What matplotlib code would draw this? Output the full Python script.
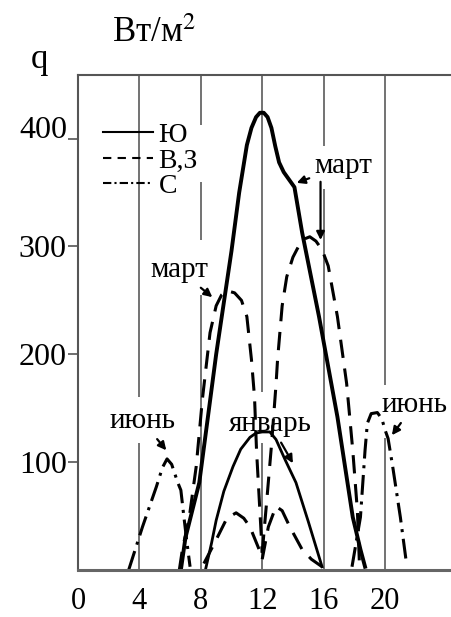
import matplotlib
matplotlib.use('Agg')
import matplotlib.pyplot as plt
import matplotlib.transforms as mtransforms
from matplotlib.lines import Line2D

plt.rcParams['font.family'] = ['Liberation Serif', 'DejaVu Serif']
plt.rcParams['mathtext.fontset'] = 'stix'

# hours / q (W/m2)
# south (Ю), solid
s_mar_h = [6.7, 7.0, 7.9, 9.0, 10.0, 10.5, 11.0, 11.3, 11.6, 11.85, 12.1, 12.35, 12.6, 12.85, 13.1, 13.4, 13.75, 14.1, 14.6, 15.7, 16.9, 17.9, 18.4, 18.7]
s_mar_q = [0, 30, 81, 200, 296, 350, 394, 410, 420, 424, 424, 420, 410, 393, 378, 369, 362, 355, 313, 235, 142, 49, 19, 3]
s_jan_h = [8.3, 8.7, 9.0, 9.5, 10.1, 10.6, 11.2, 11.6, 12.0, 12.5, 12.9, 13.5, 14.2, 15.0, 15.9]
s_jan_q = [0, 25, 46, 73, 96, 112, 123, 127, 128, 128, 121, 102, 81, 45, 3]

# east / west (В,З), dashed
e_mar_h = [6.6, 6.8, 7.25, 7.7, 8.1, 8.6, 9.0, 9.35, 9.7, 10.2, 10.65, 11.0, 11.3, 11.5, 11.63, 12.0]
e_mar_q = [0, 19, 49, 96, 158, 220, 245, 255, 259, 257, 250, 235, 195, 160, 111, 16]
w_mar_h = [12.0, 12.3, 12.6, 12.9, 13.0, 13.3, 13.6, 14.0, 14.4, 14.75, 15.1, 15.5, 15.9, 16.3, 16.9, 17.5, 17.9, 18.2, 18.35]
w_mar_q = [16, 65, 115, 172, 195, 245, 272, 290, 301, 307, 309, 305, 297, 282, 235, 173, 111, 55, 0]
e_jan_h = [8.2, 9.0, 9.7, 10.3, 10.8, 11.2, 11.8, 12.0]
e_jan_q = [6, 28, 48, 53, 48, 40, 19, 10]
w_jan_h = [12.0, 12.4, 12.9, 13.3, 13.8, 14.6, 15.2, 15.9]
w_jan_q = [10, 40, 59, 55, 40, 19, 10, 3]

# north (С), dash-dot, June
n_am_h = [3.3, 4.2, 5.1, 5.5, 5.8, 6.1, 6.5, 6.7, 6.9, 7.1, 7.3]
n_am_q = [0, 40, 77, 95, 103, 98, 81, 74, 49, 25, 3]
n_pm_h = [17.85, 18.4, 18.7, 18.85, 19.1, 19.5, 19.8, 20.0, 20.2, 20.5, 21.0, 21.4]
n_pm_q = [3, 49, 111, 136, 145, 146, 140, 130, 122, 96, 49, 6]

x_ticks = [0, 4, 8, 12, 16, 20]
y_ticks = [100, 200, 300, 400]
# grid lines at the hours, drawn in pieces like the scan
grid_h = [4, 4, 8, 8, 8, 12, 12, 16, 16, 20, 20]
grid_top = [459, 118, 459, 360, 255, 459, 118, 459, 353, 459, 122]
grid_bot = [160, 0, 413, 306, 0, 165, 0, 393, 0, 172, 0]

fig = plt.figure(figsize=(4.51, 6.17), dpi=100)
ax = fig.add_axes([0.173, 0.0762, 0.827, 0.8022])
ax.set_xlim(0, 24.3)
ax.set_ylim(0, 459)

ax.vlines(grid_h, grid_bot, grid_top, colors='#5a5a5a', lw=1.2)

dash = (0, (6, 3.5))
dashdot = (0, (6.5, 2.2, 1, 2.2))
ax.plot(s_mar_h, s_mar_q, color='k', lw=2.8, solid_joinstyle='round')
ax.plot(s_jan_h, s_jan_q, color='k', lw=2.0)
ax.plot(e_mar_h, e_mar_q, color='k', lw=2.2, linestyle=dash)
ax.plot(w_mar_h, w_mar_q, color='k', lw=2.2, linestyle=dash)
ax.plot(e_jan_h, e_jan_q, color='k', lw=2.2, linestyle=dash)
ax.plot(w_jan_h, w_jan_q, color='k', lw=2.2, linestyle=dash)
ax.plot(n_am_h, n_am_q, color='k', lw=2.2, linestyle=dashdot)
ax.plot(n_pm_h, n_pm_q, color='k', lw=2.2, linestyle=dashdot)

# legend
handles = [Line2D([], [], color='k', lw=1.5),
           Line2D([], [], color='k', lw=1.5, linestyle=(0, (4, 3))),
           Line2D([], [], color='k', lw=1.5, linestyle=(0, (4, 1.5, 1, 1.5)))]
ax.legend(handles, ['Ю', 'В,З', 'С'], loc='upper left', bbox_to_anchor=(0.03, 0.932),
          frameon=False, fontsize=20, handlelength=1.8, handletextpad=0.2,
          labelspacing=0.0, borderpad=0)

arrow = dict(arrowstyle='-|>', color='k', lw=1.6, mutation_scale=12, shrinkA=0, shrinkB=0)
fs = 21
ax.annotate('март', xy=(14.25, 359), xytext=(17.3, 375), fontsize=fs, ha='center', va='center',
            arrowprops=dict(arrow, shrinkA=2))
ax.annotate('', xy=(15.8, 306), xytext=(15.8, 360), arrowprops=arrow)
ax.annotate('март', xy=(8.75, 253), xytext=(6.6, 278), fontsize=fs, ha='center', va='center',
            arrowprops=dict(arrow, shrinkA=2))
ax.annotate('июнь', xy=(5.75, 111), xytext=(4.2, 138), fontsize=fs, ha='center', va='center',
            arrowprops=dict(arrow, shrinkA=2))
ax.annotate('январь', xy=(14.0, 99), xytext=(12.55, 135), fontsize=fs, ha='center', va='center',
            arrowprops=dict(arrow, shrinkA=2))
ax.annotate('июнь', xy=(20.45, 125), xytext=(21.9, 153), fontsize=fs, ha='center', va='center',
            arrowprops=dict(arrow, shrinkA=2), annotation_clip=False)

ax.set_xticks(x_ticks)
ax.set_yticks(y_ticks)
ax.tick_params(axis='x', length=0, pad=12.5, labelsize=22)
ax.tick_params(axis='y', length=7, width=1.2, color='#555555', pad=1, labelsize=23)
for lbl in ax.get_yticklabels():
    if lbl.get_text() == '400':
        lbl.set_transform(lbl.get_transform() + mtransforms.ScaledTranslation(0, 0.12, fig.dpi_scale_trans))

for side in ['left', 'top']:
    ax.spines[side].set_color('#555555')
    ax.spines[side].set_linewidth(1.5)
ax.spines['bottom'].set_color('#666666')
ax.spines['bottom'].set_linewidth(2.2)
ax.spines['right'].set_visible(False)

fig.text(0.087, 0.903, 'q', fontsize=25, ha='center', va='center')
fig.text(0.342, 0.945, 'Вт/м$^2$', fontsize=25, ha='center', va='center')

fig.savefig('out.png', dpi=100)
